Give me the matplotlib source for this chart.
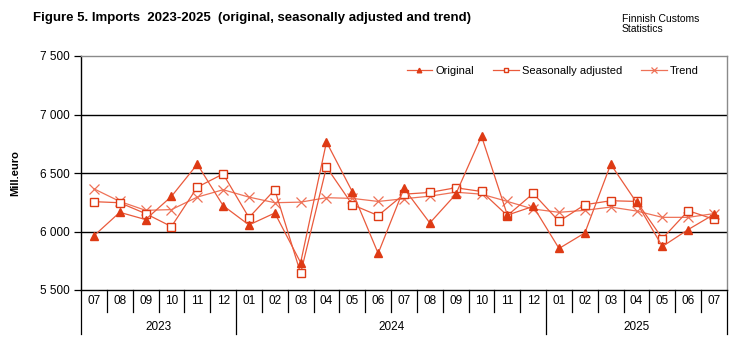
import matplotlib
matplotlib.use("Agg")
import matplotlib.pyplot as plt
import matplotlib.transforms as mtransforms
from matplotlib.ticker import FuncFormatter

plt.rcParams["font.family"] = ["Liberation Sans", "DejaVu Sans"]

months = ["07", "08", "09", "10", "11", "12",
          "01", "02", "03", "04", "05", "06", "07", "08", "09", "10", "11", "12",
          "01", "02", "03", "04", "05", "06", "07"]
years = ["2023", "2024", "2025"]
year_counts = [6, 12, 7]

original = [5963, 6164, 6102, 6300, 6575, 6221,
            6056, 6158, 5734, 6765, 6340, 5813, 6368, 6073, 6317, 6815, 6140, 6215,
            5855, 5988, 6575, 6248, 5872, 6017, 6147]
seas_adj = [6255, 6246, 6153, 6042, 6379, 6492,
            6119, 6357, 5643, 6551, 6229, 6136, 6319, 6334, 6374, 6342, 6136, 6325,
            6087, 6229, 6263, 6257, 5940, 6178, 6104]
trend = [6365, 6257, 6181, 6187, 6294, 6357,
         6294, 6246, 6251, 6289, 6283, 6257, 6280, 6302, 6336, 6319, 6257, 6192,
         6164, 6181, 6209, 6175, 6121, 6121, 6153]

LINE = "#EA5A3C"
MARK = "#DE3A14"

fig = plt.figure(figsize=(7.56, 3.40), dpi=100)
ax = fig.add_axes([81 / 756, 50 / 340, 646 / 756, 234 / 340])

x = list(range(len(months)))
ax.plot(x, original, color=LINE, lw=0.9, marker="^", ms=5.5,
        mfc=MARK, mec=MARK, label="Original", zorder=4)
ax.plot(x, seas_adj, color=LINE, lw=0.9, marker="s", ms=5.5,
        mfc="white", mec=MARK, mew=1.0, label="Seasonally adjusted", zorder=3)
ax.plot(x, trend, color="#EE7258", lw=0.9, marker="x", ms=6.5,
        mec="#EE7258", mew=0.9, label="Trend", zorder=2)

ax.set_xlim(-0.5, len(months) - 0.5)
ax.set_ylim(5500, 7500)
ax.set_yticks([5500, 6000, 6500, 7000, 7500])
ax.yaxis.set_major_formatter(FuncFormatter(lambda v, p: f"{v:,.0f}".replace(",", " ")))
ax.tick_params(axis="y", labelsize=8.5, length=5, width=0.9, pad=3)
ax.set_xticks([])
for yv in [6000, 6500, 7000]:
    ax.axhline(yv, color="black", lw=1.0, zorder=1)

for s in ["top", "right"]:
    ax.spines[s].set_color("#8a8a8a")
    ax.spines[s].set_linewidth(1.0)
for s in ["left", "bottom"]:
    ax.spines[s].set_color("black")
    ax.spines[s].set_linewidth(1.0)

ax.set_ylabel("Mill.euro", fontsize=8, fontweight="bold", labelpad=14)

# category table below the axis
trans = mtransforms.blended_transform_factory(ax.transData, ax.transAxes)
for i, m in enumerate(months):
    ax.text(i, -0.047, m, transform=trans, ha="center", va="center", fontsize=8.5)
bounds = [-0.5]
for c in year_counts:
    bounds.append(bounds[-1] + c)
for i in range(len(months) + 1):
    xb = i - 0.5
    ylow = -0.19 if xb in bounds else -0.094
    ax.plot([xb, xb], [0, ylow], transform=trans, color="black", lw=0.9, clip_on=False)
for yr, a, b in zip(years, bounds[:-1], bounds[1:]):
    ax.text((a + b) / 2, -0.158, yr, transform=trans, ha="center", va="center", fontsize=8.5)

leg = ax.legend(loc="upper right", bbox_to_anchor=(0.972, 1.0), ncol=3, frameon=False,
                fontsize=8, handlelength=2.3, columnspacing=1.7, handletextpad=0.3,
                markerscale=0.6)

fig.text(33 / 756, 1 - 18 / 340, "Figure 5. Imports  2023-2025  (original, seasonally adjusted and trend)",
         fontsize=9.5, fontweight="bold", ha="left", va="center")
fig.text(622 / 756, 1 - 24 / 340, "Finnish Customs\nStatistics", fontsize=7.5,
         ha="left", va="center", linespacing=1.0)

fig.savefig("out.png", dpi=100)
